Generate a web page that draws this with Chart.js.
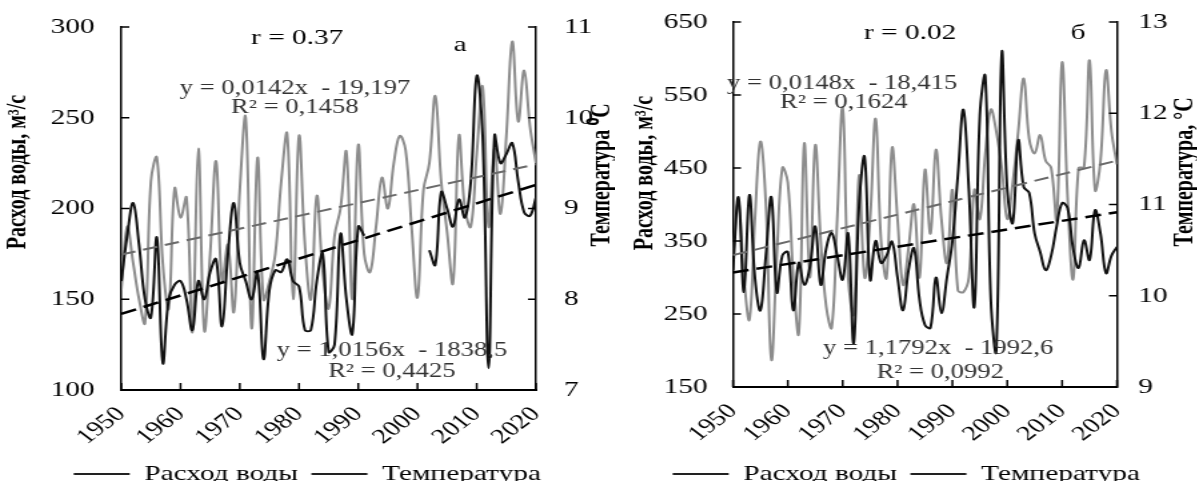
<!DOCTYPE html>
<html>
<head>
<meta charset="utf-8">
<script src="https://cdn.jsdelivr.net/npm/chart.js@4.4.1/dist/chart.umd.min.js"></script>
<style>
  html, body { margin: 0; padding: 0; background: #fff; overflow: hidden; width: 1197px; height: 481px; }
  canvas { position: absolute; top: 0; transform-origin: 0 0; transform: scaleX(1.3333); }
  #chartA { left: 0; }
  #chartB { left: 615px; }
</style>
</head>
<body>
<canvas id="chartA" width="461" height="481"></canvas>
<canvas id="chartB" width="437" height="481"></canvas>
<script>
// years on the x axis
const years = [
  1950, 1951, 1952, 1953, 1954, 1955, 1956, 1957, 1958, 1959,
  1960, 1961, 1962, 1963, 1964, 1965, 1966, 1967, 1968, 1969,
  1970, 1971, 1972, 1973, 1974, 1975, 1976, 1977, 1978, 1979,
  1980, 1981, 1982, 1983, 1984, 1985, 1986, 1987, 1988, 1989,
  1990, 1991, 1992, 1993, 1994, 1995, 1996, 1997, 1998, 1999,
  2000, 2001, 2002, 2003, 2004, 2005, 2006, 2007, 2008, 2009,
  2010, 2011, 2012, 2013, 2014, 2015, 2016, 2017, 2018, 2019,
  2020
];

// panel a: water discharge, m3/s (gap 1992-2001)
const flowA = [
  160, 185, 203, 180, 150, 140, 184, 115, 150, 158,
  160, 150, 133, 160, 150, 165, 172, 135, 175, 203,
  170, 160, 150, 165, 117, 155, 166, 165, 172, 160,
  157, 133, 133, 160, 175, 121, 125, 186, 150, 131,
  190, 185, null, null, null, null, null, null, null, null,
  null, null, 177, 169, 209, 200, 190, 205, 195, 215,
  273, 240, 112, 240, 225, 230, 236, 215, 198, 196,
  206
];

// panel a: air temperature, °C
const tempA = [
  8.10, 8.80, 8.40, 8.00, 7.74, 9.30, 9.56, 8.40, 7.90, 9.22,
  8.90, 9.12, 7.64, 9.66, 7.66, 8.50, 9.52, 8.20, 8.60, 7.86,
  9.20, 10.00, 7.68, 9.56, 8.00, 8.20, 8.50, 9.30, 9.82, 8.00,
  9.80, 8.60, 8.00, 9.14, 8.30, 7.90, 8.70, 9.00, 9.62, 8.00,
  9.70, 8.50, 8.30, 8.80, 9.34, 9.00, 9.50, 9.80, 9.64, 8.80,
  8.02, 9.20, 9.50, 10.24, 9.30, 8.74, 8.18, 9.80, 9.00, 8.80,
  9.60, 10.34, 8.80, 9.66, 8.94, 9.80, 10.84, 9.96, 10.52, 9.90,
  9.50
];

// panel б: water discharge, m3/s
const flowB = [
  310, 410, 280, 413, 300, 255, 330, 410, 280, 330,
  335, 255, 320, 290, 314, 370, 290, 340, 361, 330,
  297, 360, 210, 400, 465, 297, 350, 320, 330, 349,
  300, 255, 310, 340, 270, 235, 231, 300, 251, 300,
  350, 440, 530, 420, 260, 522, 575, 270, 200, 607,
  420, 375, 488, 424, 416, 360, 335, 310, 330, 370,
  402, 395, 340, 313, 351, 324, 392, 360, 306, 330,
  342
];

// panel б: air temperature, °C
const tempB = [
  10.44, 11.02, 10.20, 9.74, 10.84, 11.69, 11.00, 9.30, 10.44, 11.40,
  11.24, 10.20, 9.59, 11.67, 10.20, 11.65, 10.60, 9.88, 9.65, 10.84,
  12.06, 10.20, 9.80, 11.32, 10.20, 10.84, 11.94, 10.60, 10.20, 11.62,
  10.84, 10.12, 10.52, 11.00, 10.20, 11.38, 10.68, 11.60, 10.84, 10.36,
  11.16, 10.06, 10.04, 10.20, 11.16, 10.84, 11.56, 12.04, 11.80, 11.40,
  10.84, 11.24, 11.80, 12.38, 11.72, 11.56, 11.76, 11.48, 11.40, 10.84,
  12.56, 11.08, 10.18, 11.40, 11.41, 12.58, 11.16, 11.48, 12.47, 11.80,
  11.44
];

// linear trends from the figure: [slope, intercept]
const trendFlowA = [1.0156, -1838.5];
const trendTempA = [0.0142, -19.197];
const trendFlowB = [1.1792, -1992.6];
const trendTempB = [0.0148, -18.415];

const seriesNames = ['Расход воды', 'Температура'];

const FONT = "'Liberation Serif', 'Times New Roman', serif";

function points(values) {
  return years.map((yr, i) => ({ x: yr, y: values[i] }));
}

function trendPoints(coef) {
  const first = years[0], last = years[years.length - 1];
  return [
    { x: first, y: coef[0] * first + coef[1] },
    { x: last, y: coef[0] * last + coef[1] }
  ];
}

// inward tick marks, text notes and rotated axis titles
const panelPlugin = {
  id: 'panel',
  afterDraw(chart, args, opts) {
    const { ctx, chartArea: { left, right, top, bottom }, scales } = chart;
    ctx.save();
    ctx.strokeStyle = '#000';
    ctx.lineWidth = 1.5;
    scales.yQ.ticks.forEach(t => {
      const y = scales.yQ.getPixelForValue(t.value);
      ctx.beginPath(); ctx.moveTo(left, y); ctx.lineTo(left + 6, y); ctx.stroke();
    });
    scales.yT.ticks.forEach(t => {
      const y = scales.yT.getPixelForValue(t.value);
      ctx.beginPath(); ctx.moveTo(right, y); ctx.lineTo(right - 6, y); ctx.stroke();
    });
    scales.x.ticks.forEach(t => {
      const x = scales.x.getPixelForValue(t.value);
      ctx.beginPath(); ctx.moveTo(x, bottom); ctx.lineTo(x, bottom - 7); ctx.stroke();
    });

    ctx.textAlign = 'center';
    ctx.textBaseline = 'middle';
    opts.notes.forEach(n => {
      ctx.font = n.size + 'px ' + FONT;
      ctx.fillStyle = n.color;
      ctx.fillText(n.text, scales.x.getPixelForValue(n.x), scales.yQ.getPixelForValue(n.y));
    });

    ctx.fillStyle = '#000';
    ctx.font = 'bold 20px ' + FONT;
    opts.titles.forEach(t => {
      ctx.save();
      ctx.translate(t.x, t.y);
      ctx.rotate(-Math.PI / 2);
      ctx.fillText(t.text, 0, 0);
      ctx.restore();
    });
    ctx.restore();
  }
};

// hidden tick marks give the label gap without adding top padding
function sideGrid(len) {
  return { display: true, drawOnChartArea: false, drawTicks: true, tickLength: len, tickColor: 'rgba(0,0,0,0)' };
}

function drawPanel(canvas, cfg) {
  const tickFont = { family: FONT, size: 22 };
  return new Chart(canvas, {
    type: 'line',
    data: {
      datasets: [
        {
          label: seriesNames[0], data: points(cfg.flow), yAxisID: 'yQ',
          borderColor: '#111', backgroundColor: '#111', borderWidth: 2,
          pointRadius: 0, tension: 0.4, spanGaps: false, order: 1
        },
        {
          label: seriesNames[1], data: points(cfg.temp), yAxisID: 'yT',
          borderColor: '#8c8c8c', backgroundColor: '#8c8c8c', borderWidth: 2,
          pointRadius: 0, tension: 0.4, order: 2
        },
        {
          label: 'trendT', data: trendPoints(cfg.trendTemp), yAxisID: 'yT',
          borderColor: '#6a6a6a', borderDash: [11, 6], borderWidth: 2,
          pointRadius: 0, order: 0
        },
        {
          label: 'trendQ', data: trendPoints(cfg.trendFlow), yAxisID: 'yQ',
          borderColor: '#000', borderDash: [12, 6], borderWidth: 2.5,
          pointRadius: 0, order: 0
        }
      ]
    },
    options: {
      responsive: false,
      animation: false,
      devicePixelRatio: 1,
      layout: { padding: { left: 0, right: 0, top: cfg.top, bottom: -14 } },
      scales: {
        x: {
          type: 'linear', min: 1950, max: 2020,
          ticks: {
            stepSize: 10, minRotation: 45, maxRotation: 45, padding: 4,
            font: { family: FONT, size: 21 }, color: '#000',
            callback: v => String(v)
          },
          grid: { display: false },
          border: { color: '#000', width: 2 },
          afterFit: s => { s.height = cfg.xHeight; }
        },
        yQ: {
          position: 'left', min: cfg.flowMin, max: cfg.flowMax,
          ticks: { stepSize: cfg.flowStep, padding: 0, font: tickFont, color: '#000' },
          grid: sideGrid(cfg.leftPad),
          border: { color: '#000', width: 1.5 },
          afterFit: s => { s.width = cfg.leftW; }
        },
        yT: {
          position: 'right', min: cfg.tempMin, max: cfg.tempMax,
          ticks: { stepSize: 1, padding: 0, font: tickFont, color: '#000' },
          grid: sideGrid(cfg.rightPad),
          border: { color: '#000', width: 1.5 },
          afterFit: s => { s.width = cfg.rightW; }
        }
      },
      plugins: {
        tooltip: { enabled: false },
        legend: {
          position: 'bottom',
          labels: {
            boxWidth: 42, boxHeight: 2, padding: 10,
            font: { family: FONT, size: 22 }, color: '#000',
            filter: item => item.datasetIndex < 2,
            generateLabels(chart) {
              const items = Chart.defaults.plugins.legend.labels.generateLabels(chart);
              items.forEach(i => { i.fillStyle = '#222'; i.strokeStyle = '#222'; i.lineWidth = 0; });
              return items;
            }
          }
        },
        panel: { notes: cfg.notes, titles: cfg.titles }
      }
    },
    plugins: [panelPlugin]
  });
}

const noteColor = '#333';

drawPanel(document.getElementById('chartA'), {
  flow: flowA, temp: tempA, trendFlow: trendFlowA, trendTemp: trendTempA,
  flowMin: 100, flowMax: 300, flowStep: 50, tempMin: 7, tempMax: 11,
  top: 27, xHeight: 63, leftW: 91, rightW: 59, leftPad: 20, rightPad: 21,
  notes: [
    { text: 'r = 0.37', x: 1979.7, y: 294, size: 22, color: '#000' },
    { text: 'а', x: 2007.2, y: 290, size: 22, color: '#000' },
    { text: 'y = 0,0142x  - 19,197', x: 1979.3, y: 265.8, size: 20, color: noteColor },
    { text: 'R² = 0,1458', x: 1979.3, y: 255.4, size: 20, color: noteColor },
    { text: 'y = 1,0156x  - 1838,5', x: 1995.7, y: 121.5, size: 20, color: noteColor },
    { text: 'R² = 0,4425', x: 1995.7, y: 110, size: 20, color: noteColor }
  ],
  titles: [
    { text: 'Расход воды, м³/с', x: 14, y: 172 },
    { text: 'Температура ⁰С', x: 452, y: 175 }
  ]
});

drawPanel(document.getElementById('chartB'), {
  flow: flowB, temp: tempB, trendFlow: trendFlowB, trendTemp: trendTempB,
  flowMin: 150, flowMax: 650, flowStep: 100, tempMin: 9, tempMax: 13,
  top: 22, xHeight: 66, leftW: 88.5, rightW: 60.5, leftPad: 19, rightPad: 16,
  notes: [
    { text: 'r = 0.02', x: 1982.3, y: 635, size: 22, color: '#000' },
    { text: 'б', x: 2012.9, y: 635, size: 22, color: '#000' },
    { text: 'y = 0,0148x  - 18,415', x: 1969.9, y: 566, size: 20, color: noteColor },
    { text: 'R² = 0,1624', x: 1970.2, y: 539, size: 20, color: noteColor },
    { text: 'y = 1,1792x  - 1992,6', x: 1987.4, y: 202, size: 20, color: noteColor },
    { text: 'R² = 0,0992', x: 1987.8, y: 170, size: 20, color: noteColor }
  ],
  titles: [
    { text: 'Расход воды, м³/с', x: 22.5, y: 173 },
    { text: 'Температура, °С', x: 428, y: 172 }
  ]
});
</script>
</body>
</html>
